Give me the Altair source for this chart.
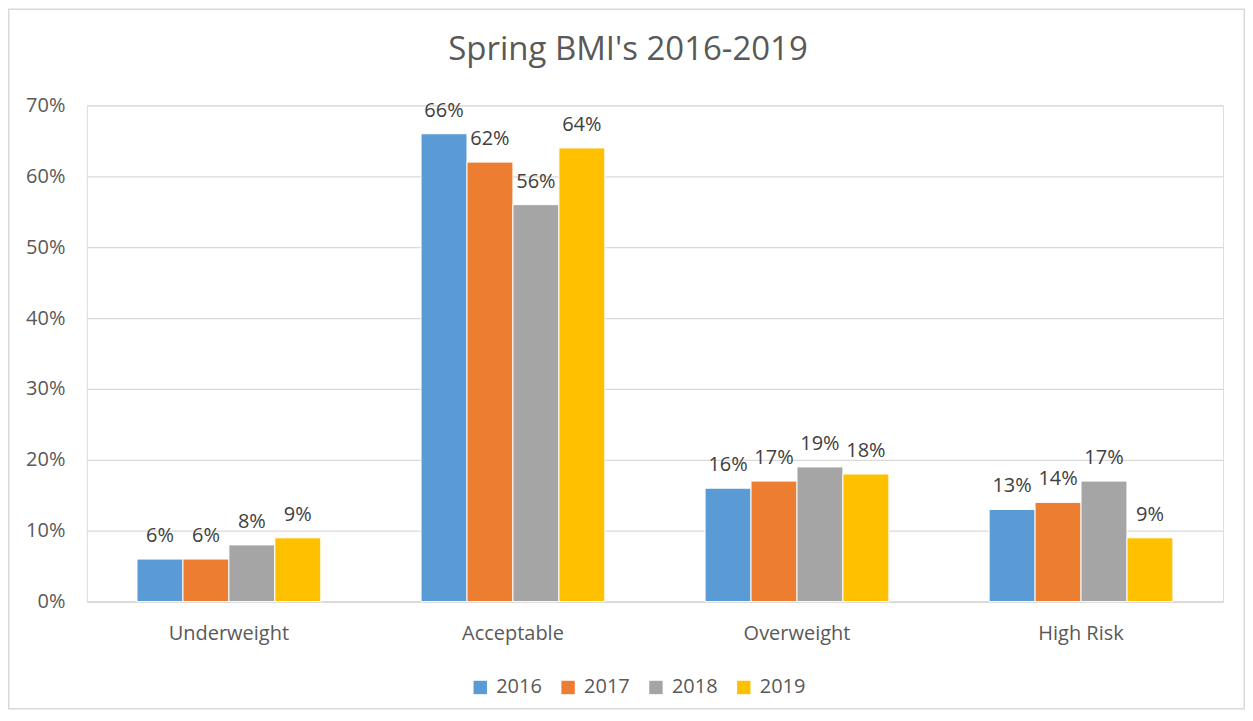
import altair as alt
import pandas as pd

categories = ["Underweight", "Acceptable", "Overweight", "High Risk"]
years = ["2016", "2017", "2018", "2019"]
v2016 = [0.06, 0.66, 0.16, 0.13]
v2017 = [0.06, 0.62, 0.17, 0.14]
v2018 = [0.08, 0.56, 0.19, 0.17]
v2019 = [0.09, 0.64, 0.18, 0.09]
colors = ["#5B9BD5", "#ED7D31", "#A5A5A5", "#FFC000"]

series = {"2016": v2016, "2017": v2017, "2018": v2018, "2019": v2019}
rows = []
for y in years:
    for c, v in zip(categories, series[y]):
        rows.append({"cat": c, "year": y, "val": v})
df = pd.DataFrame(rows)

FONT = "Open Sans"
FS = 20
W, H = 1138, 497
PL, PT, PR, PB = 79, 97, 22, 108

x = alt.X("cat:N", sort=categories, title=None,
          scale=alt.Scale(paddingInner=0.353, paddingOuter=0.1765),
          axis=alt.Axis(labelAngle=0, ticks=False, domainColor="#d9d9d9", domainWidth=1.5,
                        labelPadding=22, labelFontSize=FS, labelColor="#595959", labelFont=FONT))
xo = alt.XOffset("year:N", sort=years, scale=alt.Scale(paddingInner=0, paddingOuter=0))
y = alt.Y("val:Q", title=None,
          scale=alt.Scale(domain=[0, 0.7], nice=False),
          axis=alt.Axis(format=".0%", values=[0, 0.1, 0.2, 0.3, 0.4, 0.5, 0.6, 0.7],
                        domain=False, ticks=False, gridColor="#d9d9d9", gridWidth=1.2,
                        labelPadding=22, labelFontSize=FS, labelColor="#595959", labelFont=FONT))
color = alt.Color("year:N", sort=years, title=None,
                  scale=alt.Scale(domain=years, range=colors),
                  legend=alt.Legend(orient="none", direction="horizontal", legendX=384, legendY=573,
                                    symbolType="square", symbolSize=180, symbolStrokeWidth=0,
                                    labelFontSize=FS, labelColor="#595959", labelFont=FONT,
                                    columnPadding=16, labelOffset=6))

base = alt.Chart(df)
bars = base.mark_bar(stroke="white", strokeWidth=1).encode(x=x, xOffset=xo, y=y, color=color)
labels = base.mark_text(baseline="alphabetic", dy=-17, fontSize=FS, color="#404040", font=FONT).encode(
    x=alt.X("cat:N", sort=categories), xOffset=xo, y="val:Q", text=alt.Text("val:Q", format=".0%"))

border = alt.Chart(pd.DataFrame({"a": [0]})).mark_rect(
    fill=None, stroke="#d9d9d9", strokeWidth=1.5, clip=False
).encode(x=alt.value(-PL + 0.75), x2=alt.value(W + PR - 0.75),
         y=alt.value(-PT + 0.75), y2=alt.value(H + PB - 0.75))

chart = alt.layer(border, bars, labels).properties(
    width=W, height=H,
    autosize=alt.AutoSizeParams(type="none"),
    padding={"left": PL, "top": PT, "right": PR, "bottom": PB},
    title=alt.TitleParams("Spring BMI's 2016-2019", fontSize=33, font=FONT, fontWeight="normal",
                          color="#595959", anchor="middle", dx=-27, offset=-85,
                          baseline="alphabetic"),
).configure_view(stroke=None).configure(background="white")

chart.save("out.html", embed_options={"renderer": "svg", "actions": False})
